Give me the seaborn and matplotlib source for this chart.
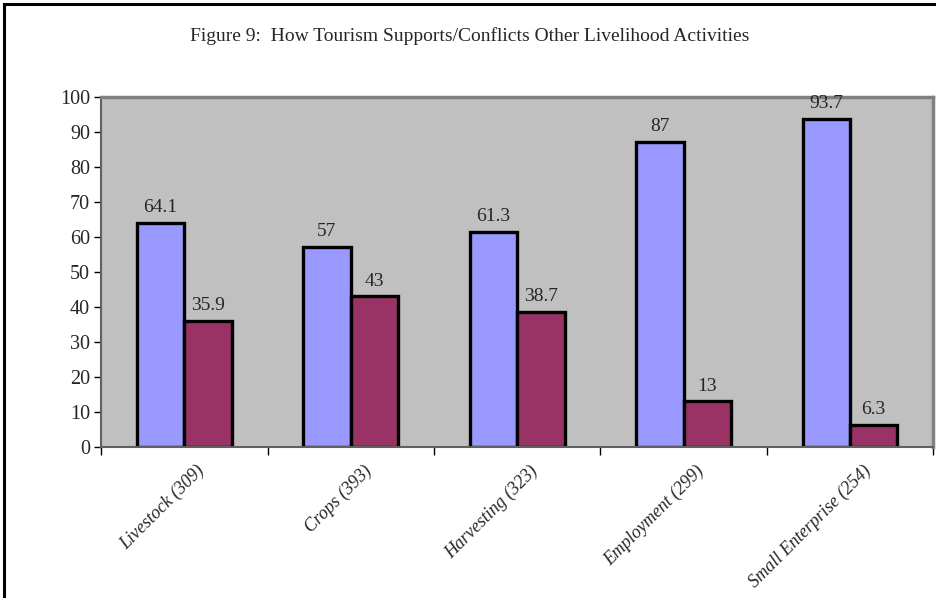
import matplotlib
matplotlib.use("Agg")
import matplotlib.pyplot as plt
import matplotlib.transforms as mtransforms
from matplotlib.patches import Rectangle
import seaborn as sns
import pandas as pd

categories = ["Livestock (309)", "Crops (393)", "Harvesting (323)",
              "Employment (299)", "Small Enterprise (254)"]
supports = [64.1, 57, 61.3, 87, 93.7]
conflicts = [35.9, 43, 38.7, 13, 6.3]
series = ["Supports", "Conflicts"]
colors = ["#9999FF", "#993366"]
y_ticks = list(range(0, 101, 10))

df = pd.DataFrame({
    "Activity": categories * 2,
    "Percent": supports + conflicts,
    "Series": [series[0]] * len(categories) + [series[1]] * len(categories),
})

sns.set_style("white")
plt.rcParams["font.family"] = ["Liberation Serif", "DejaVu Serif"]

fig = plt.figure(figsize=(9.36, 5.98), dpi=100)
ax = fig.add_axes([0.108, 0.2525, 0.889, 0.5855])

sns.barplot(data=df, x="Activity", y="Percent", hue="Series", order=categories,
            hue_order=series, palette=colors, width=0.57, edgecolor="black",
            linewidth=2.4, saturation=1, legend=False, ax=ax)

ax.set_facecolor("#C0C0C0")
ax.set_ylim(0, 100)
ax.set_xlim(-0.5, len(categories) - 0.5)
ax.set_yticks(y_ticks)
ax.set_yticklabels([str(t) for t in y_ticks], fontsize=14.5)
ax.set_xlabel("")
ax.set_ylabel("")

for cont in ax.containers:
    ax.bar_label(cont, labels=[f"{v:g}" for v in cont.datavalues],
                 padding=5, fontsize=14)

# spines: gray frame on top/right, darker axis lines
for side in ["top", "right"]:
    ax.spines[side].set_color("#808080")
    ax.spines[side].set_linewidth(2.5)
for side in ["left", "bottom"]:
    ax.spines[side].set_color("#606060")
    ax.spines[side].set_linewidth(1.5)

ax.tick_params(axis="y", direction="out", length=5, width=1, color="black", pad=3, left=True)
# x ticks at category boundaries, labels at centers
ax.set_xticks([i - 0.5 for i in range(len(categories) + 1)], minor=True)
ax.tick_params(axis="x", which="minor", direction="out", length=6, width=1, color="black", bottom=True)
ax.tick_params(axis="x", which="major", length=0, pad=11)
ax.set_xticks(range(len(categories)))
ax.set_xticklabels(categories, rotation=45, ha="right", rotation_mode="anchor",
                   fontsize=13, style="italic")
offset = mtransforms.ScaledTranslation(0.12, 0, fig.dpi_scale_trans)
for lab in ax.get_xticklabels():
    lab.set_transform(lab.get_transform() + offset)

fig.text(0.502, 0.94, "Figure 9:  How Tourism Supports/Conflicts Other Livelihood Activities",
         ha="center", va="center", fontsize=14)

fig.patches.append(Rectangle((0.004, -0.1), 1.2, 1.094, transform=fig.transFigure,
                             fill=False, edgecolor="black", linewidth=2.2))

fig.savefig("out.png", dpi=100)
